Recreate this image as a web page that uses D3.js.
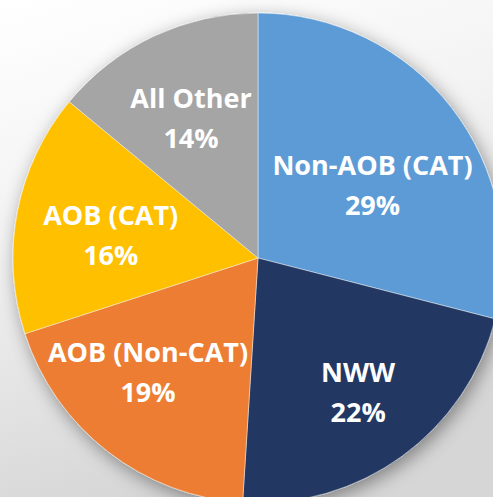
<!DOCTYPE html>
<html>
<head>
<meta charset="utf-8">
<script src="https://cdn.jsdelivr.net/npm/d3@7"></script>
<style>
  html, body { margin: 0; padding: 0; background: #fff; }
  svg { display: block; }
</style>
</head>
<body>
<div id="chart"></div>
<script>
// slice data, clockwise from 12 o'clock
const categories = ["Non-AOB (CAT)", "NWW", "AOB (Non-CAT)", "AOB (CAT)", "All Other"];
const shares = [29, 22, 19, 16, 14];
const sliceColors = ["#5B9BD5", "#203864", "#ED7D31", "#FFC000", "#A5A5A5"];

// excel-ish best fit nudges for labels (px)
const labelNudge = [[-8, 18], [9, 5], [-15, -12], [5, 2], [-1, -4]];

const width = 493, height = 497;
const cx = 258, cy = 258, radius = 245;

const svg = d3.select("#chart").append("svg")
  .attr("width", width)
  .attr("height", height);

const defs = svg.append("defs");

const bg = defs.append("linearGradient")
  .attr("id", "bg")
  .attr("x1", 0).attr("y1", 0)
  .attr("x2", 0.3).attr("y2", 1);
bg.append("stop").attr("offset", "0%").attr("stop-color", "#ffffff");
bg.append("stop").attr("offset", "45%").attr("stop-color", "#f2f2f2");
bg.append("stop").attr("offset", "100%").attr("stop-color", "#d6d6d6");

const shadow = defs.append("filter")
  .attr("id", "shadow")
  .attr("x", "-20%").attr("y", "-20%")
  .attr("width", "140%").attr("height", "140%");
shadow.append("feDropShadow")
  .attr("dx", 3)
  .attr("dy", 5)
  .attr("stdDeviation", 9)
  .attr("flood-color", "#000")
  .attr("flood-opacity", 0.4);

svg.append("rect")
  .attr("width", width)
  .attr("height", height)
  .attr("fill", "url(#bg)");

const pie = d3.pie().sort(null).value(d => d);
const arcs = pie(shares);

const arc = d3.arc().innerRadius(0).outerRadius(radius);
const labelArc = d3.arc().innerRadius(155).outerRadius(155);

const g = svg.append("g")
  .attr("transform", `translate(${cx},${cy})`);

g.append("g")
  .attr("filter", "url(#shadow)")
  .selectAll("path")
  .data(arcs)
  .enter().append("path")
  .attr("d", arc)
  .attr("fill", (d, i) => sliceColors[i])
  .attr("stroke", "#ffffff")
  .attr("stroke-opacity", 0.6)
  .attr("stroke-width", 0.75);

const labels = g.selectAll(".label")
  .data(arcs)
  .enter().append("text")
  .attr("class", "label")
  .attr("transform", (d, i) => {
    const c = labelArc.centroid(d);
    return `translate(${c[0] + labelNudge[i][0]},${c[1] + labelNudge[i][1]})`;
  })
  .attr("text-anchor", "middle")
  .style("font-family", "'Open Sans', 'Noto Sans', sans-serif")
  .style("font-weight", "bold")
  .style("font-size", "27px")
  .style("fill", "#ffffff");

labels.append("tspan")
  .attr("x", 0)
  .attr("y", -6)
  .text((d, i) => categories[i]);

labels.append("tspan")
  .attr("x", 0)
  .attr("y", 34)
  .text((d, i) => shares[i] + "%");
</script>
</body>
</html>
